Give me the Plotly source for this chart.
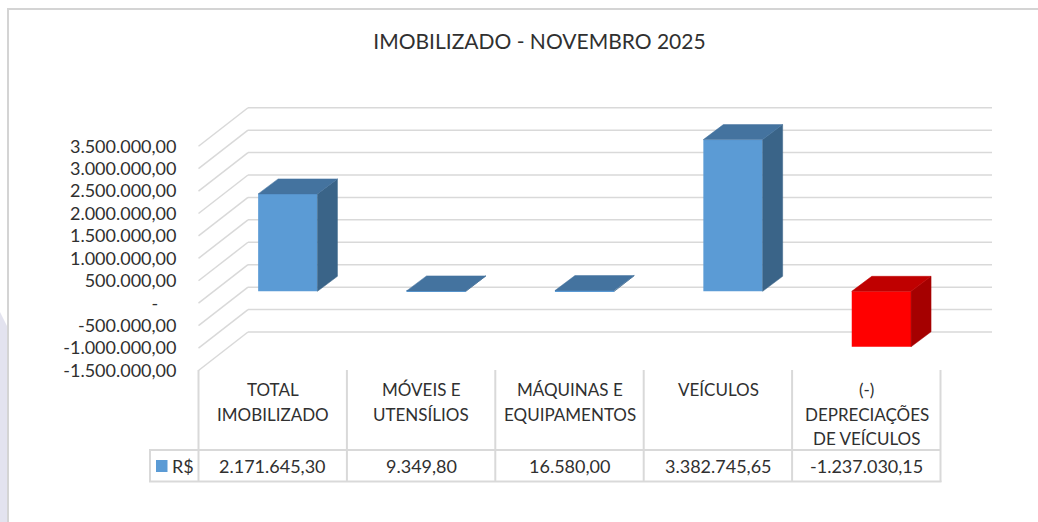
import plotly.graph_objects as go

W, H = 1038, 522
FONT = "Lato, Carlito, Calibri, sans-serif"
TXT = "#303030"
GRID = "#d9d9d9"

title = "IMOBILIZADO - NOVEMBRO 2025"
categories = [["TOTAL", "IMOBILIZADO"], ["MÓVEIS E", "UTENSÍLIOS"], ["MÁQUINAS E", "EQUIPAMENTOS"],
              ["VEÍCULOS"], ["(-)", "DEPRECIAÇÕES", "DE VEÍCULOS"]]
values = [2171645.30, 9349.80, 16580.00, 3382745.65, -1237030.15]
series_name = "R$"
y_ticks = [3500000, 3000000, 2500000, 2000000, 1500000, 1000000, 500000, 0, -500000, -1000000, -1500000]

# geometry of the fake-3D chart, in pixels of the 1038x522 page
K = 44.85e-6            # px per R$
COL = 148.4             # px per category
X0 = 272.9              # px of first category centre
Y_BAR0 = 291.3          # px of zero on the plane of the bar fronts
Y_FRONT0 = 303.2        # px of zero on the front edge of the floor/wall
Y_BACK0 = 264.7         # px of zero on the back wall
X_FRONT, X_BACK, X_RIGHT = 198.5, 248.0, 992.0
BAR_W, BAR_DX, BAR_DY = 59.3, 20.0, 15.0
BAR_SHIFT = 14.9        # px from category centre to bar-front centre


def xv(px):   # page px -> x axis value
    return (px - X0) / COL


def yv(px):   # page px -> y axis value (bar-front plane)
    return (Y_BAR0 - px) / K


def fx(px):
    return px / W


def fy(px):
    return 1 - px / H


def br(v):
    s = f"{abs(v):,.2f}".replace(",", "X").replace(".", ",").replace("X", ".")
    return ("-" if v < 0 else "") + s


fig = go.Figure()
shapes = []


def line(x0, y0, x1, y1, color=GRID, width=1.5):
    shapes.append(dict(type="line", xref="paper", yref="paper", layer="below",
                       x0=fx(x0), y0=fy(y0), x1=fx(x1), y1=fy(y1),
                       line=dict(color=color, width=width)))


# slide watermark edge and chart frame
shapes.append(dict(type="path", xref="paper", yref="paper", layer="below", line=dict(width=0),
                   fillcolor="#e3e3ef",
                   path=f"M {fx(0)} {fy(312)} L {fx(7)} {fy(326)} L {fx(7)} {fy(522)} L {fx(0)} {fy(522)} Z"))
line(7, 9, W, 9, "#d4d4d4", 2)
line(8, 8, 8, H, "#d4d4d4", 2)

# wall gridlines and floor diagonals, one per axis tick
for t in y_ticks:
    yb = Y_BACK0 - t * K
    yf = Y_FRONT0 - t * K
    shapes.append(dict(type="line", xref="x", yref="y", layer="below",
                       x0=xv(X_BACK), x1=xv(X_RIGHT), y0=yv(yb), y1=yv(yb),
                       line=dict(color=GRID, width=1.5)))
    shapes.append(dict(type="line", xref="x", yref="y", layer="below",
                       x0=xv(X_FRONT), x1=xv(X_BACK), y0=yv(yf), y1=yv(yb),
                       line=dict(color=GRID, width=1.5)))

# data table rules
cols = [X_FRONT + i * COL for i in range(len(categories) + 1)]
for c in cols:
    line(c, 370, c, 482, "#d9d9d9", 2)
line(149, 450, cols[-1], 450, "#d9d9d9", 2)
line(149, 481.5, cols[-1] + 1, 481.5, "#d9d9d9", 2)
line(150, 450, 150, 482, "#d9d9d9", 2)

# legend key in the table
shapes.append(dict(type="rect", xref="paper", yref="paper", layer="above",
                   x0=fx(156), x1=fx(167.5), y0=fy(460), y1=fy(472),
                   fillcolor="#5b9bd5", line=dict(width=0)))

xs = list(range(len(values)))
front = ["#5b9bd5" if v >= 0 else "#ff0000" for v in values]
top = ["#44739f" if v >= 0 else "#bf0000" for v in values]
side = ["#3a6488" if v >= 0 else "#a50000" for v in values]

dx = BAR_DX / COL
dy = BAR_DY / K
w = BAR_W / COL
sh = BAR_SHIFT / COL

fig.add_trace(go.Bar(x=[i + sh for i in xs], y=values, width=w, name=series_name,
                     marker=dict(color=front, line=dict(width=0)), showlegend=False,
                     hovertemplate="%{y:,.2f}<extra></extra>"))

for i, v in zip(xs, values):
    l = i + sh - w / 2
    r = i + sh + w / 2
    hi = max(v, 0)
    lo = min(v, 0)
    fig.add_trace(go.Scatter(x=[r, r + dx, r + dx, r, r], y=[lo, lo + dy, hi + dy, hi, lo],
                             mode="lines", fill="toself", fillcolor=side[i],
                             line=dict(color=side[i], width=0.5), showlegend=False, hoverinfo="skip"))
    fig.add_trace(go.Scatter(x=[l, l + dx, r + dx, r, l], y=[hi, hi + dy, hi + dy, hi, hi],
                             mode="lines", fill="toself", fillcolor=top[i],
                             line=dict(color=top[i], width=0.5), showlegend=False, hoverinfo="skip"))

annotations = [dict(text=br(v), x=fx(X0 + i * COL), y=fy(465.5), xref="paper", yref="paper",
                    showarrow=False, xanchor="center", yanchor="middle",
                    font=dict(family=FONT, size=18, color=TXT))
               for i, v in zip(xs, values)]
annotations.append(dict(text=series_name, x=fx(171.5), y=fy(465.5), xref="paper", yref="paper",
                        showarrow=False, xanchor="left", yanchor="middle", xshift=-2,
                        font=dict(family=FONT, size=18, color=TXT)))
for i, lines in enumerate(categories):
    for j, txt in enumerate(lines):
        annotations.append(dict(text=txt, x=fx(X0 + i * COL), y=fy(389.5 + j * 24.5),
                                xref="paper", yref="paper", showarrow=False,
                                xanchor="center", yanchor="middle",
                                font=dict(family=FONT, size=17, color=TXT)))

# empty trace that carries the front-plane value axis
fig.add_trace(go.Scatter(x=[None], y=[None], yaxis="y2", showlegend=False, hoverinfo="skip"))

fig.update_layout(
    width=W, height=H, autosize=False,
    margin=dict(l=0, r=0, t=0, b=0),
    paper_bgcolor="white", plot_bgcolor="rgba(0,0,0,0)",
    title=dict(text=title, x=539.5 / W, xanchor="center", y=1 - 41.5 / H, yanchor="middle",
               font=dict(family=FONT, size=21, color=TXT)),
    xaxis=dict(range=[xv(0), xv(W)], domain=[0, 1], showticklabels=False, showgrid=False,
               zeroline=False, showline=False, ticks="", automargin=False),
    yaxis=dict(range=[yv(H), yv(0)], domain=[0, 1], showgrid=False, zeroline=False,
               showticklabels=False, ticks="", automargin=False),
    yaxis2=dict(range=[(Y_FRONT0 - H) / K, Y_FRONT0 / K], domain=[0, 1], overlaying="y",
                anchor="free", position=fx(176.5), side="left", showgrid=False, zeroline=False,
                showline=False, ticks="", tickmode="array", tickvals=y_ticks,
                ticktext=[("-\u00a0\u00a0\u00a0\u00a0" if t == 0 else br(t)) for t in y_ticks],
                automargin=False, tickfont=dict(family=FONT, size=18, color=TXT)),
    shapes=shapes, annotations=annotations, barmode="overlay", hovermode=False,
)

fig.write_html("out.html", config={"displayModeBar": False},
               post_script="document.body.style.margin='0';")
